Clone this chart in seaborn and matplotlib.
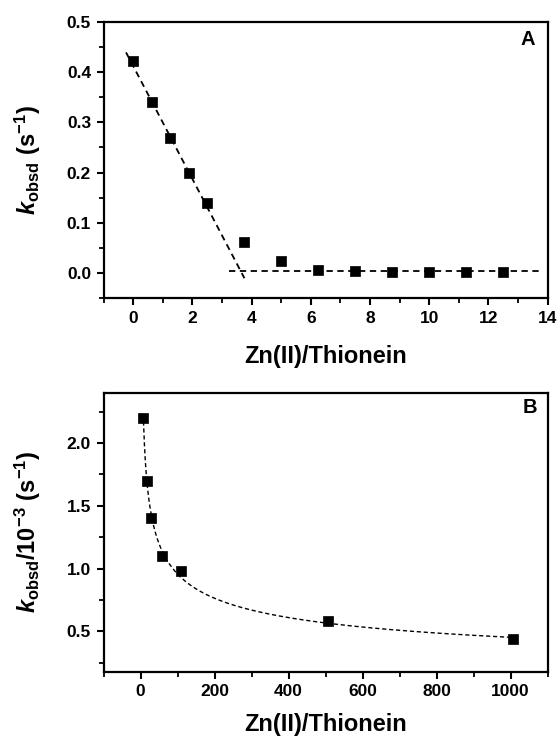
import numpy as np
import pandas as pd
import seaborn as sns
import matplotlib
matplotlib.use("Agg")
import matplotlib.pyplot as plt
from matplotlib.ticker import MultipleLocator

# ---- data ----
ratio_a = [0, 0.625, 1.25, 1.875, 2.5, 3.75, 5.0, 6.25, 7.5, 8.75, 10.0, 11.25, 12.5]
kobs_a = [0.421, 0.34, 0.268, 0.20, 0.139, 0.061, 0.025, 0.007, 0.004, 0.003, 0.002, 0.002, 0.002]
# guide lines of panel A (end points)
line1_x = [-0.24, 3.76]
line1_y = [0.439, -0.010]
line2_x = [3.25, 13.75]
line2_y = [0.004, 0.004]

ratio_b = [8, 17, 29, 57, 109, 507, 1008]
kobs_b = [2.2, 1.7, 1.4, 1.1, 0.98, 0.58, 0.44]

sns.set_theme(style="ticks")
plt.rcParams['font.family'] = ['Liberation Sans', 'DejaVu Sans']
plt.rcParams['font.weight'] = 'bold'
plt.rcParams['mathtext.fontset'] = 'custom'
plt.rcParams['mathtext.rm'] = 'Liberation Sans:bold'
plt.rcParams['mathtext.bf'] = 'Liberation Sans:bold'
plt.rcParams['mathtext.it'] = 'Liberation Sans:italic:bold'
plt.rcParams['axes.linewidth'] = 1.6
plt.rcParams['text.color'] = 'black'
plt.rcParams['axes.labelcolor'] = 'black'
plt.rcParams['xtick.color'] = 'black'
plt.rcParams['ytick.color'] = 'black'
plt.rcParams['axes.edgecolor'] = 'black'

fig = plt.figure(figsize=(5.59, 7.36), dpi=100)
axA = fig.add_axes([0.1852, 0.5947, 0.7943, 0.3758])
axB = fig.add_axes([0.1852, 0.0874, 0.7943, 0.3791])

dfa = pd.DataFrame({'x': ratio_a, 'y': kobs_a})
dfb = pd.DataFrame({'x': ratio_b, 'y': kobs_b})

# Panel A
sns.lineplot(x=line1_x, y=line1_y, ax=axA, color='black', lw=1.3, linestyle=(0, (3.5, 2.5)))
sns.lineplot(x=line2_x, y=line2_y, ax=axA, color='black', lw=1.3, linestyle=(0, (3.5, 2.5)))
sns.scatterplot(data=dfa, x='x', y='y', ax=axA, marker='s', s=52, color='black',
                edgecolor='black', linewidth=0.5, zorder=3)
axA.set_xlim(-1, 14)
axA.set_ylim(-0.05, 0.5)
axA.xaxis.set_major_locator(MultipleLocator(2))
axA.xaxis.set_minor_locator(MultipleLocator(1))
axA.yaxis.set_major_locator(MultipleLocator(0.1))
axA.yaxis.set_minor_locator(MultipleLocator(0.05))
axA.set_xlabel('Zn(II)/Thionein', fontsize=17, fontweight='bold', va='center', color='black')
axA.xaxis.set_label_coords(0.5, -0.212)
axA.set_ylabel(r'$k_{\mathrm{obsd}}\ \mathrm{(s^{-1})}$', fontsize=17, va='center', color='black')
axA.yaxis.set_label_coords(-0.17, 0.5)
axA.text(0.972, 0.970, 'A', transform=axA.transAxes, ha='right', va='top',
         fontsize=14.5, fontweight='bold', color='black')

# Panel B: fitted guide curve (power-law least squares fit to the data)
p = np.polyfit(np.log(ratio_b), np.log(kobs_b), 1)
xf = np.linspace(min(ratio_b), max(ratio_b), 400)
yf = np.exp(p[1]) * xf ** p[0]
sns.lineplot(x=xf, y=yf, ax=axB, color='black', lw=1.0, linestyle=(0, (3, 2)))
sns.scatterplot(data=dfb, x='x', y='y', ax=axB, marker='s', s=52, color='black',
                edgecolor='black', linewidth=0.5, zorder=3)
axB.set_xlim(-100, 1100)
axB.set_ylim(0.18, 2.4)
axB.xaxis.set_major_locator(MultipleLocator(200))
axB.xaxis.set_minor_locator(MultipleLocator(100))
axB.yaxis.set_major_locator(MultipleLocator(0.5))
axB.yaxis.set_minor_locator(MultipleLocator(0.25))
axB.set_xlabel('Zn(II)/Thionein', fontsize=17, fontweight='bold', va='center', color='black')
axB.xaxis.set_label_coords(0.5, -0.191)
axB.set_ylabel(r'$k_{\mathrm{obsd}}\mathrm{/10^{-3}\ (s^{-1})}$', fontsize=17, va='center', color='black')
axB.yaxis.set_label_coords(-0.17, 0.5)
axB.text(0.976, 0.981, 'B', transform=axB.transAxes, ha='right', va='top',
         fontsize=14.5, fontweight='bold', color='black')

for ax in (axA, axB):
    for s in ax.spines.values():
        s.set_visible(True)
        s.set_linewidth(1.6)
        s.set_color('black')
    ax.tick_params(axis='both', which='major', direction='out', length=5, width=1.5,
                   labelsize=12.5, colors='black', labelcolor='black',
                   top=False, right=False, pad=4)
    ax.tick_params(axis='both', which='minor', direction='out', length=3.5, width=1.3,
                   colors='black', top=False, right=False)
    for lab in ax.get_xticklabels() + ax.get_yticklabels():
        lab.set_fontweight('bold')
        lab.set_color('black')
    ax.grid(False)
    if ax.get_legend():
        ax.get_legend().remove()

fig.savefig('out.png', dpi=100)
